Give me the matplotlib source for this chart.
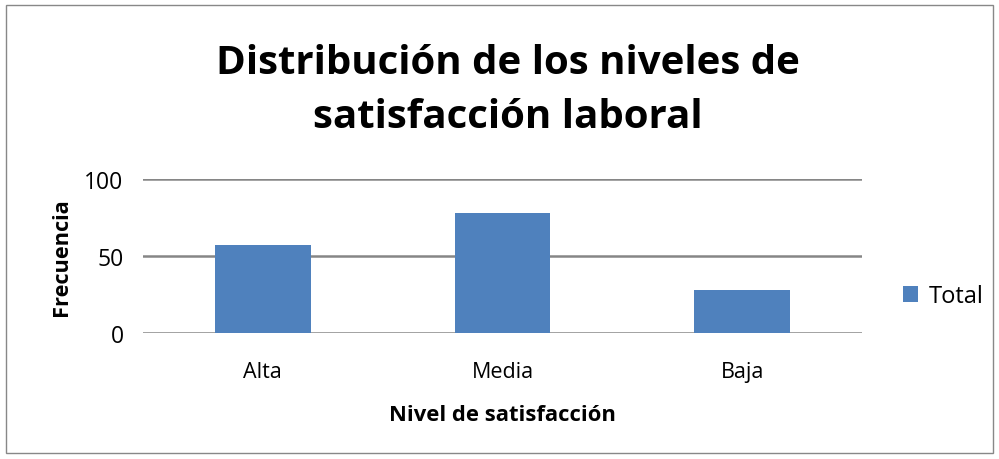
import matplotlib
matplotlib.use("Agg")
import matplotlib.pyplot as plt
from matplotlib.patches import Rectangle

categories = ["Alta", "Media", "Baja"]
values = [57, 78, 28]
series_name = "Total"
yticks = [0, 50, 100]

plt.rcParams['font.family'] = ['Open Sans', 'DejaVu Sans']

fig = plt.figure(figsize=(9.99, 4.6), dpi=100)
W, H = 999, 460
ax = fig.add_axes([143 / W, 1 - 334 / H, (862 - 143) / W, (334 - 180) / H])

x = list(range(len(categories)))
ax.bar(x, values, width=0.4, color="#4F81BD", label=series_name, zorder=3)
ax.set_xlim(-0.5, len(categories) - 0.5)
ax.set_ylim(0, 100)
ax.set_yticks(yticks)
ax.set_yticklabels([str(t) for t in yticks], fontsize=16.5)
ax.set_xticks(x)
ax.set_xticklabels(categories, fontsize=15.5)
ax.tick_params(axis='both', length=0)
ax.tick_params(axis='y', pad=14)
ax.tick_params(axis='x', pad=20)
ax.yaxis.grid(True, color="#868686", linewidth=1.8, zorder=0)
for s in ax.spines.values():
    s.set_visible(False)

ax.set_xlabel("Nivel de satisfacción", fontsize=15.8, fontweight='bold', labelpad=16)
ax.set_ylabel("Frecuencia", fontsize=15.7, fontweight='bold', labelpad=9)

fig.text(0.508, 1 - 91 / H, "Distribución de los niveles de\nsatisfacción laboral",
         ha='center', va='center', fontsize=29, fontweight='bold', linespacing=1.5)

leg = fig.legend(loc='center left', bbox_to_anchor=(903 / W, 1 - 297 / H), frameon=False,
                 fontsize=17, handlelength=0.65, handleheight=0.65, handletextpad=0.45,
                 borderpad=0, borderaxespad=0)

fig.patches.append(Rectangle((6 / W, 6 / H), (993 - 6) / W, (454 - 6) / H,
                             transform=fig.transFigure, fill=False,
                             edgecolor="#888888", linewidth=1))

fig.savefig("out.png", dpi=100)
